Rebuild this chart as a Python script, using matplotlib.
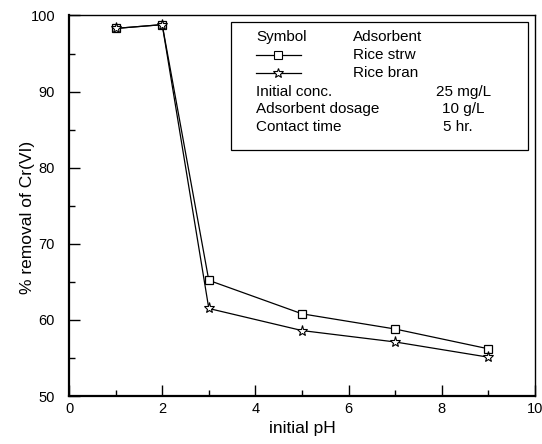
import matplotlib
matplotlib.use("Agg")
import matplotlib.pyplot as plt
from matplotlib.ticker import MultipleLocator
from matplotlib.patches import Rectangle
from matplotlib.lines import Line2D

plt.rcParams['font.family'] = ['Liberation Sans', 'DejaVu Sans']

ph = [1, 2, 3, 5, 7, 9]
rice_straw = [98.3, 98.8, 65.2, 60.8, 58.8, 56.2]
rice_bran = [98.3, 98.8, 61.5, 58.6, 57.1, 55.1]

W, H = 542, 444
fig = plt.figure(figsize=(W/100, H/100), dpi=100)
L, R, T, B = 69, 535, 15.5, 396
ax = fig.add_axes([L/W, 1 - B/H, (R-L)/W, (B-T)/H])

ax.plot(ph, rice_straw, color='black', lw=0.9, marker='s', ms=5.5,
        mfc='white', mec='black', mew=0.9)
ax.plot(ph, rice_bran, color='black', lw=0.9, marker='*', ms=8,
        mfc='white', mec='black', mew=0.8)

ax.set_xlim(0, 10)
ax.set_ylim(50, 100)
ax.xaxis.set_major_locator(MultipleLocator(2))
ax.xaxis.set_minor_locator(MultipleLocator(1))
ax.yaxis.set_major_locator(MultipleLocator(10))
ax.yaxis.set_minor_locator(MultipleLocator(5))
ax.tick_params(which='major', direction='in', length=8, width=1, labelsize=10.5,
               top=False, right=False)
ax.tick_params(axis='y', which='major', pad=10)
ax.tick_params(axis='x', which='major', pad=4)
ax.tick_params(which='minor', direction='in', length=4, width=1,
               top=False, right=False)
for s in ['left', 'bottom']:
    ax.spines[s].set_linewidth(1.6)
for s in ['top', 'right']:
    ax.spines[s].set_linewidth(1.0)

ax.set_xlabel('initial pH', fontsize=12.5)
ax.xaxis.set_label_coords(0.5, (B - 421) / (B - T))
ax.set_ylabel('% removal of Cr(VI)', fontsize=12.5)
ax.yaxis.set_label_coords((35 - L) / (R - L), (B - 217) / (B - T))

# info box
box = Rectangle((231/W, 1 - 150/H), (528-231)/W, (150-22)/H,
                transform=fig.transFigure, fill=False, ec='black', lw=0.9)
fig.patches.append(box)

fs = 11
def t(x, y, s):
    fig.text(x/W, 1 - y/H, s, fontsize=fs, va='center', ha='left')

t(256, 37, 'Symbol')
t(353, 37, 'Adsorbent')
t(353, 55, 'Rice strw')
t(353, 73, 'Rice bran')
t(256, 92, 'Initial conc.')
t(436, 92, '25 mg/L')
t(256, 109, 'Adsorbent dosage')
t(442, 109, '10 g/L')
t(256, 127, 'Contact time')
t(443, 127, '5 hr.')

for yy, mk, ms in [(55, 's', 5.5), (73, '*', 7.5)]:
    fig.lines.append(Line2D([256/W, 301/W], [1 - yy/H]*2, transform=fig.transFigure,
                            color='black', lw=0.9))
    fig.lines.append(Line2D([278/W], [1 - yy/H], transform=fig.transFigure,
                            marker=mk, ms=ms, mfc='white', mec='black', mew=0.8, lw=0))

fig.savefig('out.png', dpi=100)
